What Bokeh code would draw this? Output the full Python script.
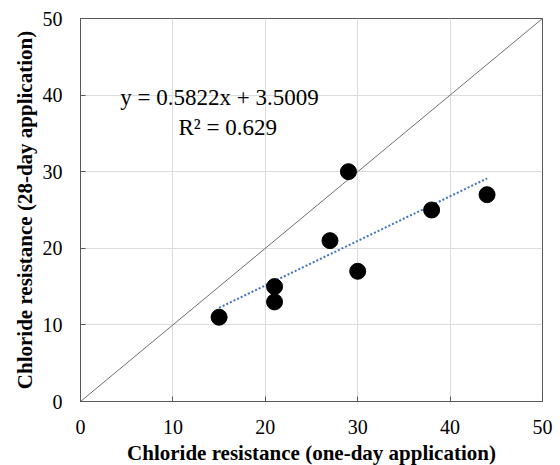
from bokeh.plotting import figure
from bokeh.models import Range1d, FixedTicker, Label
from bokeh.embed import file_html
from bokeh.resources import INLINE

# Chloride resistance measurements
one_day = [15, 21, 21, 27, 29, 30, 38, 44]
day_28 = [11, 15, 13, 21, 30, 17, 25, 27]

# Linear fit reported on the chart
slope = 0.5822
intercept = 3.5009
r_squared = 0.629

ticks = [0, 10, 20, 30, 40, 50]
FONT = "Liberation Serif"

p = figure(
    width=560, height=465,
    frame_width=462, frame_height=383,
    x_range=Range1d(0, 50), y_range=Range1d(0, 50),
    output_backend="svg", toolbar_location=None,
    min_border_left=80, min_border_right=18,
    min_border_top=18, min_border_bottom=64,
)
p.background_fill_color = "white"
p.border_fill_color = "white"
p.outline_line_color = "#595959"
p.outline_line_width = 1

for ax in (p.xaxis, p.yaxis):
    ax.ticker = FixedTicker(ticks=ticks)
    ax.minor_tick_line_color = None
    ax.major_tick_in = 5
    ax.major_tick_out = 0
    ax.major_tick_line_color = "#595959"
    ax.axis_line_color = "#595959"
    ax.major_label_text_font = FONT
    ax.major_label_text_font_size = "20px"
    ax.major_label_text_color = "black"
    ax.axis_label_text_font = FONT
    ax.axis_label_text_font_size = "21px"
    ax.axis_label_text_font_style = "bold"
    ax.axis_label_text_color = "black"

p.xaxis.axis_label = "Chloride resistance (one-day application)"
p.yaxis.axis_label = "Chloride resistance (28-day application)"
p.xaxis.major_label_standoff = 18
p.yaxis.major_label_standoff = 18
p.xaxis.axis_label_standoff = 4
p.yaxis.axis_label_standoff = 3

p.grid.grid_line_color = "#dcdcdc"
p.grid.grid_line_width = 1
p.xgrid.ticker = FixedTicker(ticks=ticks)
p.ygrid.ticker = FixedTicker(ticks=ticks)

# 1:1 reference line
p.line([0, 50], [0, 50], line_color="#6e6e6e", line_width=1)

# Fitted trend line across the data range
x0, x1 = min(one_day), max(one_day)
p.line([x0, x1], [slope * x0 + intercept, slope * x1 + intercept],
       line_color="#4472C4", line_width=2, line_dash="2 2")

p.scatter(one_day, day_28, size=16, fill_color="black", line_color="black")

p.add_layout(Label(x=4.3, y=39.7, text=f"y = {slope}x + {intercept}",
                   text_font=FONT, text_font_size="23px", text_color="black",
                   text_baseline="alphabetic"))
p.add_layout(Label(x=10.6, y=35.8, text=f"R² = {r_squared}",
                   text_font=FONT, text_font_size="23px", text_color="black",
                   text_baseline="alphabetic"))

open("out.html", "w").write(file_html(p, INLINE))
